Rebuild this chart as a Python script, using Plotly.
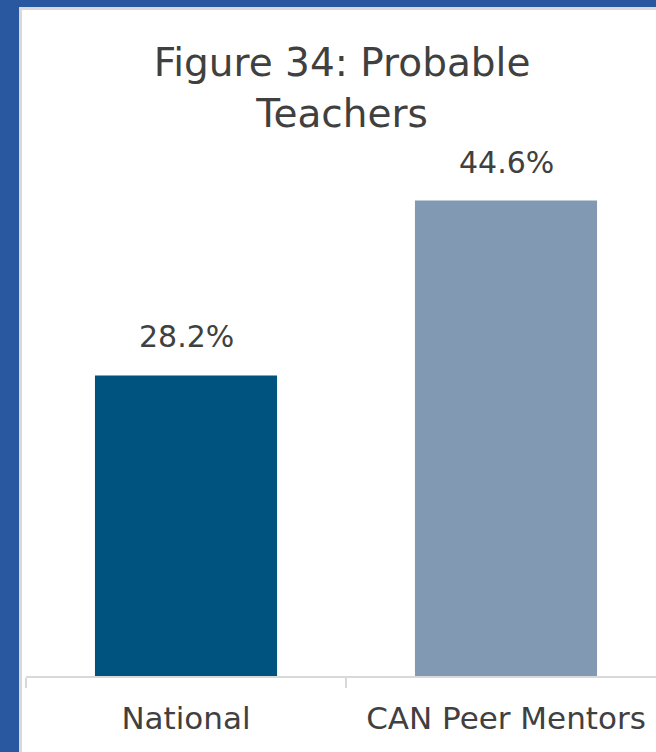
import plotly.graph_objects as go

categories = ["National", "CAN Peer Mentors"]
values = [28.2, 44.6]
labels = ["28.2%", "44.6%"]
bar_colors = ["#00527f", "#8199b3"]

W, H = 656, 752
ML, MR, MT, MB = 26, 0, 150, 76
plot_h = H - MT - MB
plot_w = W - ML - MR
px_per_unit = 10.66
y_top = plot_h / px_per_unit
cat_px = 320.0
x_max = -0.5 + plot_w / cat_px

def px_x(px):
    return (px - ML) / plot_w

def px_y(py):
    return (H - MB - py) / plot_h

font_fam = "DejaVu Sans"

fig = go.Figure()
fig.add_trace(go.Bar(
    x=categories, y=values, marker=dict(color=bar_colors, line=dict(width=0)),
    width=0.569, hoverinfo="skip",
))

for c, v, t in zip(categories, values, labels):
    fig.add_annotation(x=c, y=v, text=t, showarrow=False, yanchor="bottom",
                       yshift=19, font=dict(family=font_fam, size=30, color="#404040"))

fig.update_layout(
    width=W, height=H,
    margin=dict(l=ML, r=MR, t=MT, b=MB),
    paper_bgcolor="#2a58a0",
    plot_bgcolor="rgba(0,0,0,0)",
    showlegend=False,
    title=dict(text="Figure 34: Probable<br>Teachers", x=px_x(342), xref="paper", xanchor="center",
               y=1 - 76 / H, yref="container", yanchor="top",
               font=dict(family=font_fam, size=39, color="#404040")),
    xaxis=dict(range=[-0.5, x_max], showline=True, linecolor="#d9d9d9", linewidth=2,
               ticks="outside", ticklen=10, tickwidth=2, tickcolor="#d9d9d9", tickson="boundaries",
               ticklabelstandoff=14,
               tickfont=dict(family=font_fam, size=31, color="#404040"), showgrid=False,
               zeroline=False, fixedrange=True),
    yaxis=dict(range=[0, y_top], visible=False, showgrid=False, zeroline=False, fixedrange=True),
    shapes=[
        dict(type="rect", xref="paper", yref="paper", x0=px_x(19), x1=px_x(660), y0=px_y(760), y1=px_y(7),
             fillcolor="#d9d9d9", line=dict(width=0), layer="below"),
        dict(type="rect", xref="paper", yref="paper", x0=px_x(22), x1=px_x(660), y0=px_y(760), y1=px_y(10),
             fillcolor="#ffffff", line=dict(width=0), layer="below"),
    ],
)

fig.write_html("out.html", config={"displayModeBar": False},
               post_script="document.body.style.margin='0';document.body.style.overflow='hidden';")
